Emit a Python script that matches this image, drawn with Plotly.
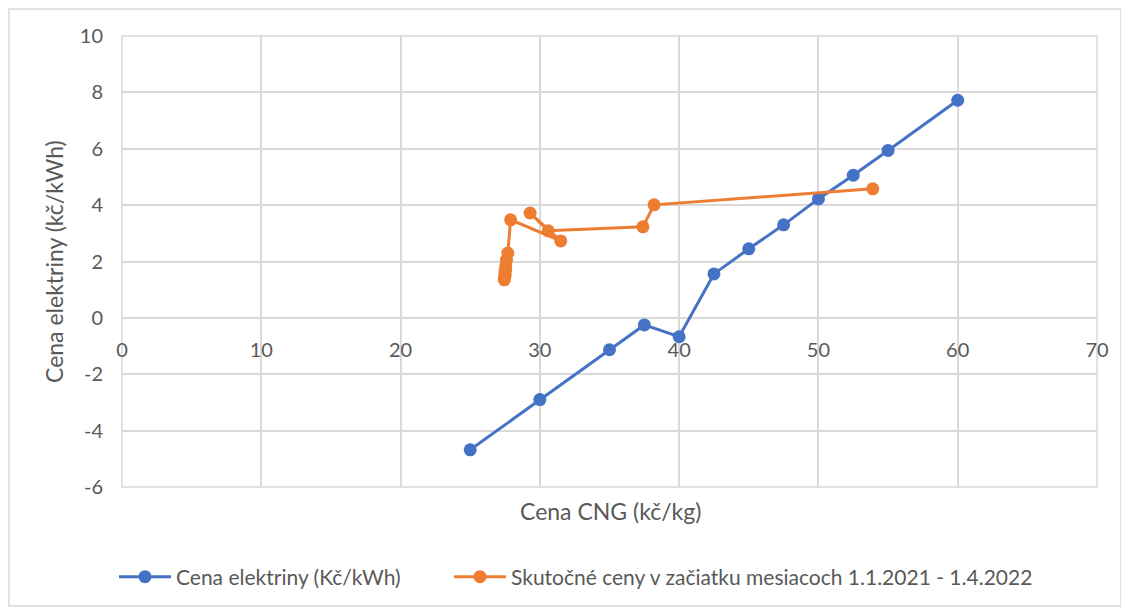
import plotly.graph_objects as go

# Data
blue_x = [25, 30, 35, 37.5, 40, 42.5, 45, 47.5, 50, 52.5, 55, 60]
blue_y = [-4.68, -2.9, -1.13, -0.25, -0.67, 1.56, 2.45, 3.3, 4.22, 5.06, 5.94, 7.72]

orange_x = [27.45, 27.45, 27.5, 27.5, 27.5, 27.55, 27.55, 27.6, 27.7, 27.9, 31.5, 29.3, 30.6, 37.4, 38.2, 53.9]
orange_y = [1.35, 1.4, 1.5, 1.55, 1.65, 1.75, 1.85, 2.05, 2.3, 3.48, 2.73, 3.72, 3.09, 3.23, 4.01, 4.58]

x_ticks = [0, 10, 20, 30, 40, 50, 60, 70]
y_ticks = [-6, -4, -2, 0, 2, 4, 6, 8, 10]
y_tick_labels = ["-6", "-4", "-2", "0", "2", "4", "6", "8", "10"]

blue_name = "Cena elektriny (Kč/kWh)"
orange_name = "Skutočné ceny v začiatku mesiacoch 1.1.2021 - 1.4.2022"
x_title = "Cena CNG (kč/kg)"
y_title = "Cena elektriny (kč/kWh)"

BLUE = "#4472C4"
ORANGE = "#ED7D31"
GRID = "#D9D9D9"
TXT = "#595959"
FONT = "Lato"

fig = go.Figure()
fig.add_trace(go.Scatter(x=blue_x, y=blue_y, mode="lines+markers", name=blue_name,
                         line=dict(color=BLUE, width=3),
                         marker=dict(color=BLUE, size=13), legend="legend"))
fig.add_trace(go.Scatter(x=orange_x, y=orange_y, mode="lines+markers", name=orange_name,
                         line=dict(color=ORANGE, width=3),
                         marker=dict(color=ORANGE, size=13), legend="legend2"))

# page has an 8px body margin, so figure is 8px smaller and shifted
W, H = 1121, 602
L, R, T, B = 114, 32, 28, 123
pw, ph = W - L - R, H - T - B
OFF = 8  # page -> figure offset


def px_x(page_x):
    return (page_x - OFF - L) / pw


def px_y(page_y):
    return (H - B - (page_y - OFF)) / ph


legend_common = dict(orientation="h", yanchor="middle", y=px_y(577), xanchor="left",
                     font=dict(size=21, color=TXT), bgcolor="rgba(0,0,0,0)", itemwidth=52)

fig.update_layout(
    width=W, height=H,
    margin=dict(l=L, r=R, t=T, b=B, pad=0),
    paper_bgcolor="white", plot_bgcolor="white",
    font=dict(family=FONT, size=20, color=TXT),
    showlegend=True,
    legend=dict(x=px_x(114), **legend_common),
    legend2=dict(x=px_x(449), **legend_common),
    xaxis=dict(range=[0, 70], tickvals=x_ticks, showgrid=True, gridcolor=GRID, gridwidth=1.5,
               zeroline=False, showline=False, anchor="free", position=6/16,
               ticks="", ticklabelstandoff=18, tickfont=dict(size=20, color=TXT)),
    yaxis=dict(range=[-6, 10], tickvals=y_ticks, ticktext=y_tick_labels,
               showgrid=True, gridcolor=GRID, gridwidth=1.5,
               zeroline=True, zerolinecolor=GRID, zerolinewidth=1.5, showline=False,
               ticks="", ticklabelstandoff=18, tickfont=dict(size=20, color=TXT)),
)

# axis titles as annotations
fig.add_annotation(text=x_title, xref="paper", yref="paper", x=px_x(610), y=px_y(511),
                   xanchor="center", yanchor="middle", showarrow=False,
                   font=dict(size=23, color=TXT, family=FONT))
fig.add_annotation(text=y_title, xref="paper", yref="paper", x=px_x(54), y=px_y(262),
                   xanchor="center", yanchor="middle", showarrow=False, textangle=-90,
                   font=dict(size=23, color=TXT, family=FONT))
# plot area frame (gridline coloured)
fig.add_shape(type="rect", xref="paper", yref="paper", x0=0, x1=1, y0=0, y1=1,
              line=dict(color=GRID, width=1.5), layer="below")
# outer chart border
fig.add_shape(type="rect", xref="paper", yref="paper",
              x0=px_x(9), x1=px_x(1121), y0=px_y(606), y1=px_y(9),
              line=dict(color=GRID, width=1.5))

fig.write_html("out.html")
